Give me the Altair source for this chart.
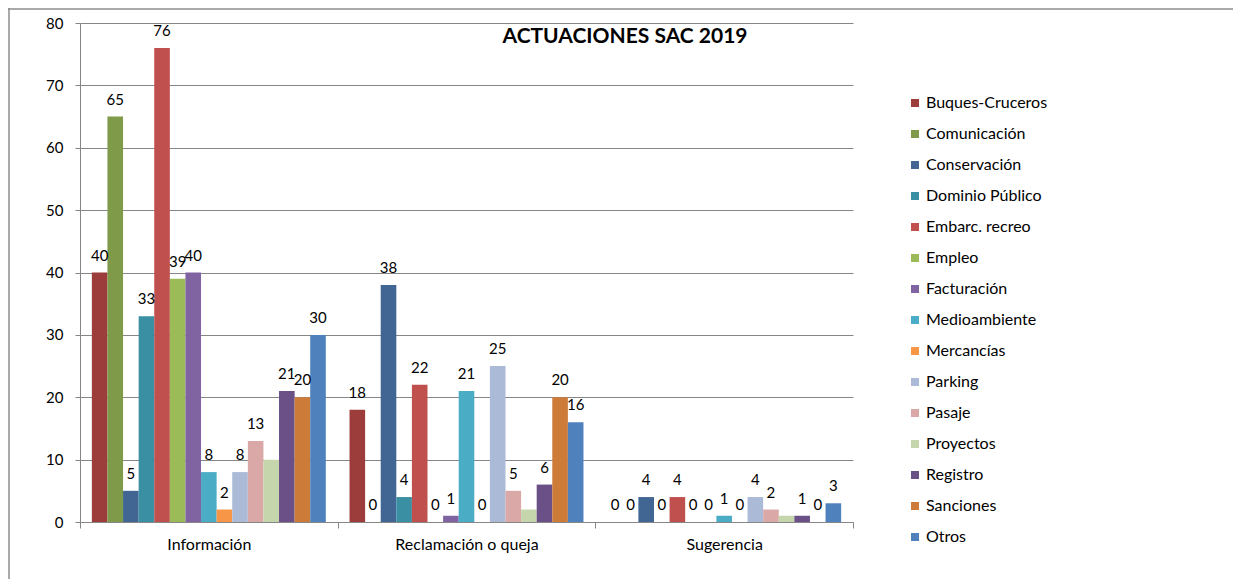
import altair as alt
import pandas as pd

categories = ["Información", "Reclamación o queja", "Sugerencia"]
series = ["Buques-Cruceros", "Comunicación", "Conservación", "Dominio Público",
          "Embarc. recreo", "Empleo", "Facturación", "Medioambiente", "Mercancías",
          "Parking", "Pasaje", "Proyectos", "Registro", "Sanciones", "Otros"]
colors = ["#9C3D3B", "#7F9A48", "#416694", "#3A8FA3", "#C0504D", "#9BBB59",
          "#8064A2", "#4BACC6", "#F79646", "#AABAD7", "#DAA8A7", "#C6D6AC",
          "#6A5087", "#CD7B38", "#4F81BD"]
informacion = [40, 65, 5, 33, 76, 39, 40, 8, 2, 8, 13, 10, 21, 20, 30]
reclamacion = [18, 0, 38, 4, 22, 0, 1, 21, 0, 25, 5, 2, 6, 20, 16]
sugerencia = [0, 0, 4, 0, 4, 0, 0, 1, 0, 4, 2, 1, 1, 0, 3]
unlabeled = ["Proyectos"]
title_text = "ACTUACIONES SAC 2019"
y_ticks = [0, 10, 20, 30, 40, 50, 60, 70, 80]

rows = []
for cat, vals in zip(categories, [informacion, reclamacion, sugerencia]):
    for s, v in zip(series, vals):
        rows.append({"cat": cat, "serie": s, "valor": v, "show": s not in unlabeled})
df = pd.DataFrame(rows)

FONT = "Lato"
W, H = 773, 499
PL, PT, PR, PB = 72, 15, 380, 57

x_axis = alt.Axis(labelAngle=0, tickBand="extent", tickSize=6, labelPadding=8,
                  labelFontSize=16, grid=False)
y_axis = alt.Axis(values=y_ticks, tickSize=5, labelPadding=12, labelFontSize=15,
                  gridColor="#868686", gridWidth=1)

xo_enc = alt.XOffset("serie:N", sort=series,
                     scale=alt.Scale(paddingInner=0, paddingOuter=0.76))

bars = alt.Chart(df).mark_bar().encode(
    x=alt.X("cat:N", sort=categories, title=None,
            scale=alt.Scale(paddingInner=0, paddingOuter=0), axis=x_axis),
    xOffset=xo_enc,
    y=alt.Y("valor:Q", title=None,
            scale=alt.Scale(domain=[0, 80], nice=False), axis=y_axis),
    color=alt.Color("serie:N", sort=series,
                    scale=alt.Scale(domain=series, range=colors),
                    legend=alt.Legend(title=None, orient="none", legendX=827, legendY=72,
                                      symbolType="square", symbolSize=64,
                                      symbolStrokeWidth=0,
                                      labelFontSize=16, labelFont=FONT,
                                      labelColor="#000000", labelOffset=3,
                                      rowPadding=15)),
)

labels = alt.Chart(df).transform_filter("datum.show").mark_text(
    baseline="alphabetic", dy=-12, fontSize=15, font=FONT, color="#000000"
).encode(
    x=alt.X("cat:N", sort=categories, title=None, axis=x_axis),
    xOffset=xo_enc,
    y=alt.Y("valor:Q", title=None, axis=y_axis),
    text="valor:Q",
)

title = alt.Chart(alt.Data(values=[{"t": title_text}])).mark_text(
    fontSize=21, fontWeight="bold", font=FONT, color="#000000", baseline="middle"
).encode(x=alt.value(545), y=alt.value(14), text="t:N")

frame_top = alt.Chart(alt.Data(values=[{}])).mark_rule(
    color="#8c8c8c", strokeWidth=1.5
).encode(x=alt.value(-PL), x2=alt.value(W + PR), y=alt.value(-PT + 1))
frame_left = alt.Chart(alt.Data(values=[{}])).mark_rule(
    color="#8c8c8c", strokeWidth=1.5
).encode(x=alt.value(-PL + 1), y=alt.value(-PT), y2=alt.value(H + PB))

chart = alt.layer(bars, labels, title, frame_top, frame_left).properties(
    width=W, height=H,
    padding={"left": PL, "top": PT, "right": PR, "bottom": PB},
    autosize=alt.AutoSizeParams(type="none"),
).configure_view(stroke=None).configure_axis(
    labelFont=FONT, labelColor="#000000",
    domainColor="#868686", tickColor="#868686",
)

chart.save("out.html", embed_options={"renderer": "svg", "actions": False})
